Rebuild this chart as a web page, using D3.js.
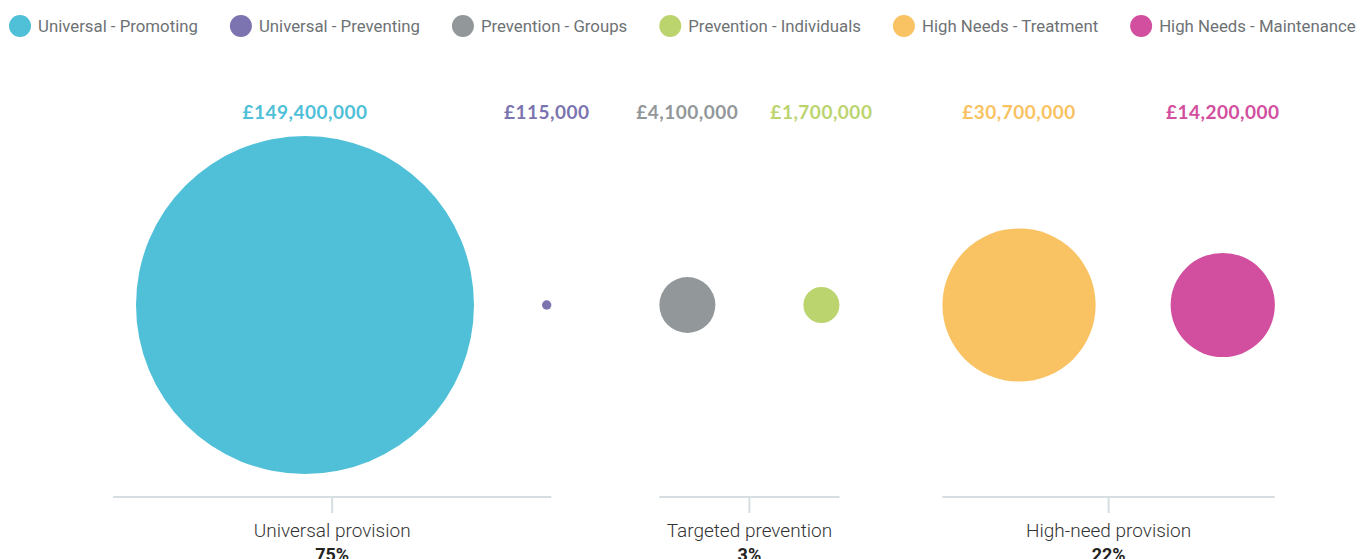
<!DOCTYPE html>
<html>
<head>
<meta charset="utf-8">
<script src="https://cdn.jsdelivr.net/npm/d3@7"></script>
<style>
  html, body { margin: 0; padding: 0; background: #fff; overflow: hidden; }
  svg { display: block; }
</style>
</head>
<body>
<div id="chart"></div>
<script>
// data
var categories = ["Universal - Promoting", "Universal - Preventing", "Prevention - Groups",
                  "Prevention - Individuals", "High Needs - Treatment", "High Needs - Maintenance"];
var values = [149400000, 115000, 4100000, 1700000, 30700000, 14200000];
var groupOf = ["Universal provision", "Universal provision", "Targeted prevention",
               "Targeted prevention", "High-need provision", "High-need provision"];
var groups = ["Universal provision", "Targeted prevention", "High-need provision"];
var groupShares = [75, 3, 22];

var palette = ["#4fc0d8", "#7b74b0", "#929799", "#bcd46e", "#f9c262", "#d24e9e"];

var width = 1368, height = 559;
var margin = {left: 113};
var cy = 305;           // circle centre line
var axisY = 497;
// spacing between bubbles inside each group, and between groups
var innerGaps = [68, 88, 75], groupGaps = [108, 103], firstPad = 23;

var svg = d3.select("#chart").append("svg")
    .attr("width", width)
    .attr("height", height);

var color = d3.scaleOrdinal().domain(categories).range(palette);
var r = d3.scaleSqrt().domain([0, d3.max(values)]).range([0, 169]);

var fmt = d3.format(",");

// legend, laid out left to right from the text widths
var legend = svg.append("g").attr("class", "legend");
var lx = 20;
categories.forEach(function(c) {
    var item = legend.append("g").attr("transform", "translate(" + lx + ",26)");
    item.append("circle").attr("r", 11).attr("fill", color(c));
    var t = item.append("text")
        .attr("x", 18)
        .attr("dy", "0.35em")
        .style("font-family", "Roboto, sans-serif")
        .style("font-size", "16.8px")
        .style("fill", "#6e7275")
        .text(c);
    lx += 18 + t.node().getComputedTextLength() + 43;
});

// pack the bubbles along the line, group by group
var nodes = categories.map(function(c, i) {
    return {name: c, value: values[i], group: groupOf[i], r: r(values[i])};
});
var cursor = margin.left + firstPad;
var groupExt = {};
var gi = 0;
nodes.forEach(function(d, i) {
    if (i > 0) {
        if (d.group === nodes[i - 1].group) cursor += innerGaps[gi];
        else { cursor += groupGaps[gi]; gi++; }
    }
    d.x = cursor + d.r;
    cursor += 2 * d.r;
    var g = groupExt[d.group] || (groupExt[d.group] = {x0: i === 0 ? margin.left : d.x - d.r, x1: 0});
    g.x1 = d.x + d.r;
});

svg.append("g").selectAll("circle")
    .data(nodes)
    .enter().append("circle")
    .attr("cx", d => d.x)
    .attr("cy", cy)
    .attr("r", d => d.r)
    .attr("fill", d => color(d.name));

svg.append("g").selectAll("text")
    .data(nodes)
    .enter().append("text")
    .attr("x", d => d.x)
    .attr("y", 119)
    .attr("text-anchor", "middle")
    .style("font-family", "Lato, sans-serif")
    .style("font-weight", "700")
    .style("font-size", "19px")
    .style("letter-spacing", "0.5px")
    .style("fill", d => color(d.name))
    .text(d => "£" + fmt(d.value));

// group axes with a centre tick and labels
var ga = svg.append("g").selectAll("g")
    .data(groups)
    .enter().append("g");

ga.append("line")
    .attr("x1", d => groupExt[d].x0)
    .attr("x2", d => groupExt[d].x1)
    .attr("y1", axisY).attr("y2", axisY)
    .attr("stroke", "#d6dee1")
    .attr("stroke-width", 2);

ga.append("line")
    .attr("x1", d => (groupExt[d].x0 + groupExt[d].x1) / 2)
    .attr("x2", d => (groupExt[d].x0 + groupExt[d].x1) / 2)
    .attr("y1", axisY).attr("y2", axisY + 16)
    .attr("stroke", "#d6dee1")
    .attr("stroke-width", 2);

ga.append("text")
    .attr("x", d => (groupExt[d].x0 + groupExt[d].x1) / 2)
    .attr("y", 537)
    .attr("text-anchor", "middle")
    .style("font-family", "Roboto, sans-serif")
    .style("font-weight", "300")
    .style("font-size", "19px")
    .style("fill", "#333")
    .text(d => d);

ga.append("text")
    .attr("x", d => (groupExt[d].x0 + groupExt[d].x1) / 2)
    .attr("y", 561)
    .attr("text-anchor", "middle")
    .style("font-family", "Roboto, sans-serif")
    .style("font-weight", "700")
    .style("font-size", "18px")
    .style("fill", "#222")
    .text((d, i) => groupShares[i] + "%");
</script>
</body>
</html>
